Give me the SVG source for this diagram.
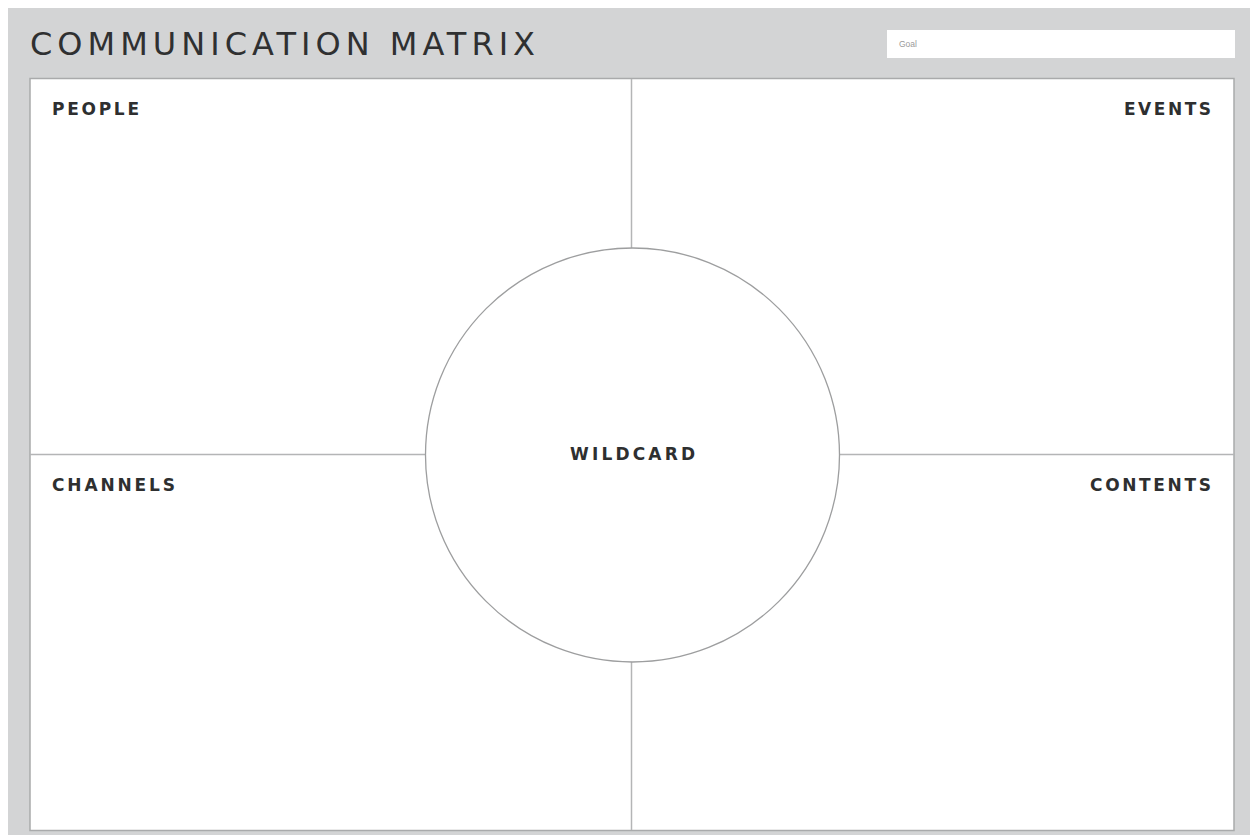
<svg xmlns="http://www.w3.org/2000/svg" width="1250" height="835" viewBox="0 0 1250 835">
  <style>
    .frame { fill: #ffffff; stroke: #a9aaab; stroke-width: 1.5; }
    .divider { fill: none; stroke: #b4b5b6; stroke-width: 1.5; }
    .label { font-family: "DejaVu Sans", "Liberation Sans", sans-serif; font-size: 17px; font-weight: 700; fill: #2e2f30; }
    .title { font-family: "DejaVu Sans", "Liberation Sans", sans-serif; font-size: 32px; font-weight: 400; fill: #2f3031; }
    .goal { font-family: "Liberation Sans", sans-serif; font-size: 8.5px; fill: #9a9a9a; }
  </style>
  <rect x="0" y="0" width="1250" height="835" fill="#ffffff"/>
  <rect x="8" y="8" width="1242" height="827" fill="#d3d4d5"/>

  <g id="header">
    <text class="title" x="30" y="55" textLength="505" lengthAdjust="spacing">COMMUNICATION MATRIX</text>
    <rect x="887" y="30" width="348" height="28" fill="#ffffff"/>
    <text class="goal" x="899" y="47">Goal</text>
  </g>

  <rect class="frame" x="30" y="78.5" width="1204" height="752"/>

  <g id="connectors">
    <line class="divider" x1="631.5" y1="79" x2="631.5" y2="248"/>
    <line class="divider" x1="631.5" y1="662" x2="631.5" y2="830"/>
    <line class="divider" x1="30" y1="454.5" x2="426" y2="454.5"/>
    <line class="divider" x1="839" y1="454.5" x2="1234" y2="454.5"/>
  </g>

  <g id="people"><text class="label" x="52" y="115" textLength="87" lengthAdjust="spacing">PEOPLE</text></g>
  <g id="events"><text class="label" x="1124" y="115" textLength="87" lengthAdjust="spacing">EVENTS</text></g>
  <g id="channels"><text class="label" x="52" y="491" textLength="123" lengthAdjust="spacing">CHANNELS</text></g>
  <g id="contents"><text class="label" x="1090" y="491" textLength="121" lengthAdjust="spacing">CONTENTS</text></g>
  <g id="wildcard">
    <circle cx="632.5" cy="455" r="207" fill="#ffffff" stroke="#9d9e9f" stroke-width="1.3"/>
    <text class="label" x="570" y="460" textLength="125" lengthAdjust="spacing">WILDCARD</text>
  </g>
</svg>
